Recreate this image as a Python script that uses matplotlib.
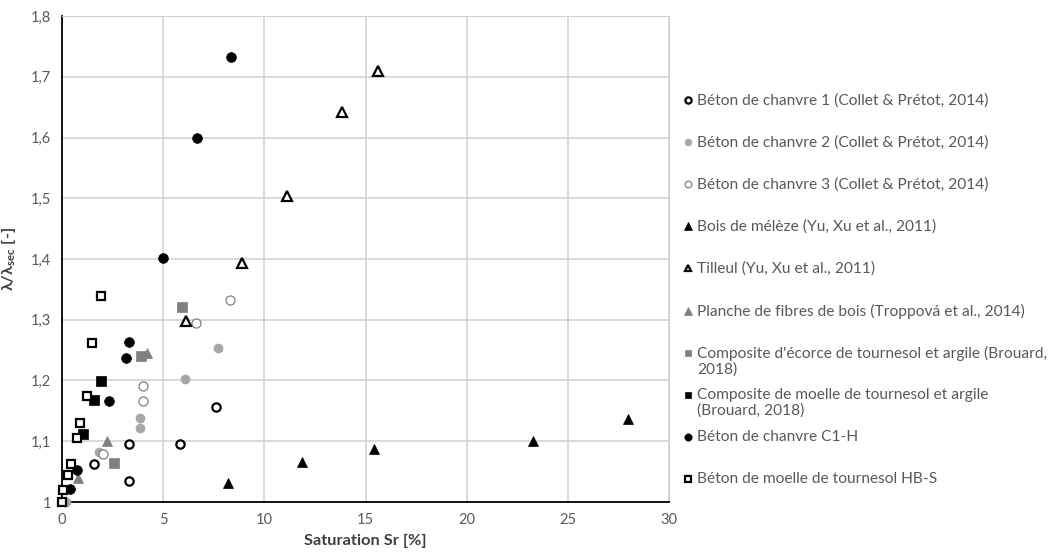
import matplotlib
matplotlib.use("Agg")
import matplotlib.pyplot as plt
from matplotlib.lines import Line2D
from matplotlib.ticker import FuncFormatter, MultipleLocator

plt.rcParams['font.family'] = ['Lato', 'DejaVu Sans']
plt.rcParams['mathtext.fontset'] = 'custom'
plt.rcParams['mathtext.bf'] = 'Lato:bold'

# données
b1_x = [1.6, 3.3, 3.3, 5.85, 7.6]
b1_y = [1.062, 1.095, 1.035, 1.095, 1.156]
b2_x = [0.2, 1.85, 3.85, 3.85, 6.1, 7.7]
b2_y = [1.0, 1.082, 1.139, 1.122, 1.203, 1.253]
b3_x = [2.05, 4.0, 4.0, 6.6, 8.3]
b3_y = [1.079, 1.191, 1.167, 1.294, 1.333]
meleze_x = [8.2, 11.85, 15.4, 23.3, 27.95]
meleze_y = [1.031, 1.066, 1.088, 1.101, 1.137]
tilleul_x = [6.15, 8.9, 11.1, 13.85, 15.6]
tilleul_y = [1.298, 1.394, 1.504, 1.642, 1.709]
planche_x = [0.78, 2.2, 4.2]
planche_y = [1.04, 1.101, 1.245]
ecorce_x = [2.55, 3.9, 5.95]
ecorce_y = [1.064, 1.241, 1.321]
moelle_x = [1.05, 1.6, 1.95]
moelle_y = [1.112, 1.168, 1.2]
c1h_x = [0.4, 0.75, 2.3, 3.15, 3.3, 5.0, 6.65, 8.35]
c1h_y = [1.021, 1.053, 1.166, 1.237, 1.264, 1.402, 1.599, 1.733]
hbs_x = [0.0, 0.03, 0.28, 0.46, 0.74, 0.89, 1.24, 1.49, 1.91]
hbs_y = [1.0, 1.019, 1.044, 1.062, 1.106, 1.13, 1.174, 1.262, 1.339]

labels = [
    "Béton de chanvre 1 (Collet & Prétot, 2014)",
    "Béton de chanvre 2 (Collet & Prétot, 2014)",
    "Béton de chanvre 3 (Collet & Prétot, 2014)",
    "Bois de mélèze (Yu, Xu et al., 2011)",
    "Tilleul (Yu, Xu et al., 2011)",
    "Planche de fibres de bois (Troppová et al., 2014)",
    "Composite d'écorce de tournesol et argile (Brouard,\n2018)",
    "Composite de moelle de tournesol et argile\n(Brouard, 2018)",
    "Béton de chanvre C1-H",
    "Béton de moelle de tournesol HB-S",
]

GREY_L = '#A6A6A6'
GREY_D = '#7F7F7F'
TXT = '#595959'

styles = [
    dict(marker='o', ms=6.0, mfc='white', mec='black', mew=1.6),
    dict(marker='o', ms=6.5, mfc=GREY_L, mec=GREY_L, mew=0.5),
    dict(marker='o', ms=6.5, mfc='white', mec=GREY_D, mew=0.9),
    dict(marker='^', ms=7.0, mfc='black', mec='black', mew=0.5),
    dict(marker='^', ms=6.5, mfc='white', mec='black', mew=1.6),
    dict(marker='^', ms=7.0, mfc=GREY_D, mec=GREY_D, mew=0.5),
    dict(marker='s', ms=6.5, mfc=GREY_D, mec=GREY_D, mew=0.5),
    dict(marker='s', ms=6.5, mfc='black', mec='black', mew=0.5),
    dict(marker='o', ms=7.0, mfc='black', mec='black', mew=0.5),
    dict(marker='s', ms=6.0, mfc='white', mec='black', mew=1.6),
]

series = [(b1_x, b1_y), (b2_x, b2_y), (b3_x, b3_y), (meleze_x, meleze_y),
          (tilleul_x, tilleul_y), (planche_x, planche_y), (ecorce_x, ecorce_y),
          (moelle_x, moelle_y), (c1h_x, c1h_y), (hbs_x, hbs_y)]

W, H = 1062, 555
fig = plt.figure(figsize=(W / 100, H / 100), dpi=100)
ax = fig.add_axes([62 / W, 1 - 502 / H, (669 - 62) / W, (502 - 16) / H])

for (x, y), st in zip(series, styles):
    ax.plot(x, y, ls='none', clip_on=False, zorder=3, **st)

ax.set_xlim(0, 30)
ax.set_ylim(1, 1.8)
ax.xaxis.set_major_locator(MultipleLocator(5))
ax.yaxis.set_major_locator(MultipleLocator(0.1))
fmt = FuncFormatter(lambda v, p: f"{v:.1f}".rstrip('0').rstrip('.').replace('.', ','))
ax.xaxis.set_major_formatter(fmt)
ax.yaxis.set_major_formatter(fmt)
ax.grid(True, color='#D0D0D0', lw=1.1)
ax.set_axisbelow(True)
ax.tick_params(length=0, labelsize=10.5, labelcolor=TXT, pad=8)
for s in ['top', 'right']:
    ax.spines[s].set_color('#D0D0D0')
for s in ['left', 'bottom']:
    ax.spines[s].set_color('black')
    ax.spines[s].set_linewidth(1.3)

ax.set_xlabel("Saturation Sr [%]", fontsize=11.8, fontweight='bold', color='#404040', labelpad=5)
ax.set_ylabel(r"λ/λ$_{\mathbf{sec}}$ [-]", fontsize=11.8, fontweight='bold', color='#404040', labelpad=9)

# légende à droite
for i, (lab, st) in enumerate(zip(labels, styles)):
    yp = 100 + 42.1 * i
    mst = dict(st)
    mst['ms'] = st['ms'] * 0.75
    fig.add_artist(Line2D([688 / W], [1 - yp / H], ls='none', transform=fig.transFigure, **mst))
    fig.text(697 / W, 1 - (yp - 7) / H, lab, fontsize=11.2, color=TXT, va='top', ha='left', linespacing=1.15)

fig.savefig("out.png", dpi=100)
